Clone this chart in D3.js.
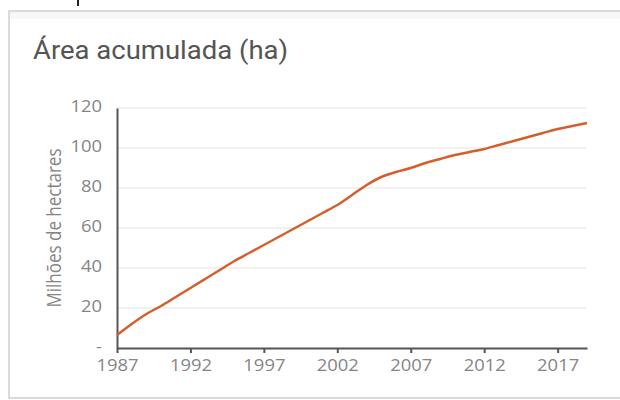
<!DOCTYPE html>
<html>
<head>
<meta charset="utf-8">
<script src="https://cdn.jsdelivr.net/npm/d3@7"></script>
<style>
    body { margin: 0; background: #fff; }
    svg { display: block; }
    .tick text { fill: #858585; font-family: "Open Sans", sans-serif; font-size: 16px; }
</style>
</head>
<body>
<script>
var years = [1987, 1988, 1989, 1990, 1991, 1992, 1993, 1994, 1995, 1996, 1997,
    1998, 1999, 2000, 2001, 2002, 2003, 2004, 2005, 2006, 2007, 2008,
    2009, 2010, 2011, 2012, 2013, 2014, 2015, 2016, 2017, 2018, 2019];

// milhoes de hectares
var area = [6.5, 12, 17, 21, 25.5, 30, 34.5, 39, 43.5, 47.5, 51.5,
    55.5, 59.5, 63.5, 67.5, 71.5, 76.5, 81.5, 85.5, 88, 90, 92.5,
    94.5, 96.5, 98, 99.5, 101.5, 103.5, 105.5, 107.5, 109.5, 111, 112.5];

var xTicks = [1987, 1992, 1997, 2002, 2007, 2012, 2017];
var yTicks = [0, 20, 40, 60, 80, 100, 120];

var width = 620;
var height = 400;
var stretch = 1.15; // o print original esta um pouco esticado na horizontal

var svg = d3.select("body").append("svg")
    .attr("width", width)
    .attr("height", height);

// cartao
svg.append('rect')
    .attr('x', 9)
    .attr('y', 11)
    .attr('width', 640)
    .attr('height', 387)
    .style('fill', '#fff')
    .style('stroke', '#cfcfcf')
    .style('stroke-width', 1.5);

svg.append('rect')
    .attr('x', 10)
    .attr('y', 12)
    .attr('width', 640)
    .attr('height', 7)
    .style('fill', '#f7f7f7');

svg.append('line') // marca preta no topo
    .attr('x1', 78).attr('x2', 78)
    .attr('y1', 0).attr('y2', 6)
    .style('stroke', '#222')
    .style('stroke-width', 2);

svg.append('text')
    .attr('transform', 'translate(33,59) scale(1.1,1)')
    .style('font-family', 'Roboto, sans-serif')
    .style('font-size', '25px')
    .style('fill', '#555')
    .text('Área acumulada (ha)');

var x = d3.scaleLinear()
    .domain([1987, 2019])
    .range([117, 587]);

var y = d3.scaleLinear()
    .domain([0, 120])
    .range([348, 108]);

// linhas de grade
svg.selectAll('line.grid')
    .data(yTicks.filter(d => d > 0))
    .enter()
    .append('line')
    .attr('class', 'grid')
    .attr('x1', x(1987))
    .attr('x2', x(2019))
    .attr('y1', d => y(d))
    .attr('y2', d => y(d))
    .style('stroke', '#ececec')
    .style('stroke-width', 1.5);

var xAxis = d3.axisBottom(x)
    .tickValues(xTicks)
    .tickFormat(d3.format('d'))
    .tickSize(5)
    .tickSizeOuter(0)
    .tickPadding(7);

var gx = svg.append('g')
    .attr('transform', `translate(0, ${y(0)})`)
    .call(xAxis);

gx.selectAll('.domain, .tick line')
    .style('stroke', '#555')
    .style('stroke-width', 2);

gx.selectAll('.tick text')
    .attr('transform', `scale(${stretch},1)`);

var yAxis = d3.axisLeft(y)
    .tickValues(yTicks)
    .tickSize(0)
    .tickSizeOuter(0)
    .tickFormat(d => d === 0 ? '-' : d);

var gy = svg.append('g')
    .attr('transform', `translate(${x(1987)}, 0)`)
    .call(yAxis);

gy.select('.domain')
    .style('stroke', '#555')
    .style('stroke-width', 2);

gy.selectAll('.tick text')
    .attr('x', -15 / stretch)
    .attr('dy', '0.22em')
    .attr('transform', `scale(${stretch},1)`);

svg.append('text')
    .attr('transform', `translate(61, ${(y(0) + y(120)) / 2}) scale(${stretch},1) rotate(-90)`)
    .style('text-anchor', 'middle')
    .style('font-family', '"Open Sans", sans-serif')
    .style('font-size', '17px')
    .style('fill', '#858585')
    .text('Milhões de hectares');

var line = d3.line()
    .x((d, i) => x(years[i]))
    .y(d => y(d))
    .curve(d3.curveMonotoneX);

svg.append('path')
    .datum(area)
    .attr('d', line)
    .style('fill', 'none')
    .style('stroke', '#d45f2c')
    .style('stroke-width', 2.5);
</script>
</body>
</html>
